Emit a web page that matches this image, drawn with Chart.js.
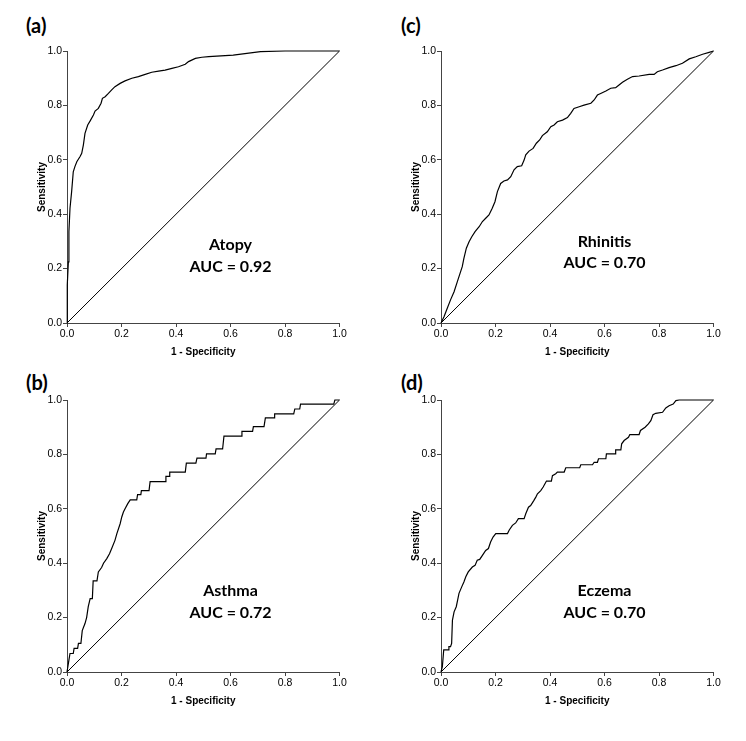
<!DOCTYPE html>
<html>
<head>
<meta charset="utf-8">
<script src="https://cdn.jsdelivr.net/npm/chart.js@4.4.1/dist/chart.umd.min.js"></script>
<style>
    body { margin: 0; background: #fff; }
    #wrap { position: relative; width: 746px; height: 741px; }
    canvas { position: absolute; }
    .panel-tag {
        position: absolute;
        font-family: Lato, 'Open Sans', sans-serif;
        font-weight: bold;
        font-size: 20px;
        color: #000;
        line-height: 20px;
    }
</style>
</head>
<body>
<div id="wrap">
    <div class="panel-tag" style="left:26px; top:15px;">(a)</div>
    <div class="panel-tag" style="left:401px; top:15px;">(c)</div>
    <div class="panel-tag" style="left:26px; top:372px;">(b)</div>
    <div class="panel-tag" style="left:401px; top:372px;">(d)</div>
    <canvas id="chartA" width="373" height="370" style="left:0px; top:0px;"></canvas>
    <canvas id="chartC" width="373" height="370" style="left:374px; top:0px;"></canvas>
    <canvas id="chartB" width="373" height="370" style="left:0px; top:349px;"></canvas>
    <canvas id="chartD" width="373" height="370" style="left:374px; top:349px;"></canvas>
</div>
<script>
// ROC curves (1 - specificity, sensitivity)
const tickValues = [0, 0.2, 0.4, 0.6, 0.8, 1.0];

const atopyFpr = [0, 0, 0.002, 0.005, 0.007, 0.011, 0.017, 0.023, 0.029, 0.036, 0.048, 0.054, 0.060, 0.066, 0.076, 0.085, 0.097, 0.103, 0.115, 0.125, 0.130, 0.140, 0.152, 0.164, 0.176, 0.195, 0.213, 0.238, 0.262, 0.287, 0.311, 0.336, 0.360, 0.385, 0.409, 0.434, 0.446, 0.471, 0.495, 0.520, 0.610, 0.710, 0.800, 1.0];
const atopyTpr = [0, 0.127, 0.140, 0.225, 0.336, 0.422, 0.483, 0.556, 0.575, 0.593, 0.612, 0.624, 0.654, 0.697, 0.728, 0.743, 0.765, 0.779, 0.789, 0.808, 0.826, 0.832, 0.844, 0.857, 0.869, 0.881, 0.890, 0.900, 0.906, 0.914, 0.922, 0.926, 0.930, 0.936, 0.942, 0.951, 0.961, 0.973, 0.977, 0.979, 0.985, 0.998, 1.0, 1.0];

const rhinitisFpr = [0, 0.011, 0.023, 0.035, 0.048, 0.060, 0.072, 0.078, 0.084, 0.093, 0.103, 0.113, 0.125, 0.140, 0.152, 0.164, 0.176, 0.188, 0.198, 0.207, 0.219, 0.231, 0.244, 0.256, 0.268, 0.280, 0.296, 0.305, 0.311, 0.323, 0.338, 0.350, 0.362, 0.372, 0.390, 0.403, 0.415, 0.427, 0.446, 0.464, 0.476, 0.488, 0.507, 0.525, 0.550, 0.562, 0.574, 0.586, 0.605, 0.623, 0.641, 0.651, 0.666, 0.684, 0.703, 0.727, 0.764, 0.782, 0.794, 0.813, 0.837, 0.862, 0.886, 0.911, 0.935, 0.960, 0.984, 1.0];
const rhinitisTpr = [0, 0.023, 0.054, 0.085, 0.115, 0.152, 0.189, 0.207, 0.238, 0.275, 0.299, 0.317, 0.336, 0.354, 0.373, 0.385, 0.397, 0.422, 0.446, 0.483, 0.513, 0.522, 0.526, 0.538, 0.563, 0.575, 0.578, 0.599, 0.618, 0.632, 0.642, 0.661, 0.673, 0.689, 0.703, 0.722, 0.728, 0.740, 0.746, 0.755, 0.771, 0.789, 0.795, 0.801, 0.808, 0.820, 0.838, 0.844, 0.853, 0.863, 0.865, 0.873, 0.885, 0.896, 0.906, 0.908, 0.914, 0.914, 0.924, 0.930, 0.939, 0.946, 0.955, 0.971, 0.979, 0.988, 0.995, 1.0];

const asthmaFpr = [0, 0.007, 0.011, 0.023, 0.026, 0.039, 0.042, 0.051, 0.056, 0.066, 0.072, 0.078, 0.085, 0.093, 0.096, 0.110, 0.115, 0.127, 0.134, 0.146, 0.156, 0.164, 0.176, 0.183, 0.195, 0.201, 0.207, 0.213, 0.223, 0.232, 0.256, 0.259, 0.271, 0.273, 0.301, 0.305, 0.360, 0.363, 0.375, 0.377, 0.434, 0.438, 0.473, 0.477, 0.510, 0.512, 0.544, 0.547, 0.571, 0.576, 0.640, 0.642, 0.681, 0.684, 0.723, 0.728, 0.760, 0.762, 0.832, 0.836, 0.854, 0.857, 0.979, 0.983, 1.0];
const asthmaTpr = [0, 0.044, 0.068, 0.068, 0.087, 0.087, 0.105, 0.105, 0.152, 0.178, 0.200, 0.240, 0.270, 0.270, 0.335, 0.335, 0.368, 0.384, 0.400, 0.417, 0.435, 0.454, 0.484, 0.509, 0.545, 0.570, 0.588, 0.600, 0.619, 0.633, 0.633, 0.652, 0.652, 0.667, 0.667, 0.700, 0.700, 0.719, 0.719, 0.735, 0.735, 0.768, 0.768, 0.786, 0.786, 0.802, 0.802, 0.820, 0.820, 0.867, 0.867, 0.885, 0.885, 0.902, 0.902, 0.934, 0.934, 0.949, 0.949, 0.967, 0.967, 0.985, 0.985, 1.0, 1.0];

const eczemaFpr = [0, 0.005, 0.010, 0.027, 0.029, 0.035, 0.039, 0.042, 0.048, 0.056, 0.061, 0.066, 0.076, 0.084, 0.091, 0.100, 0.115, 0.125, 0.133, 0.142, 0.152, 0.164, 0.174, 0.182, 0.191, 0.201, 0.244, 0.250, 0.262, 0.274, 0.284, 0.305, 0.311, 0.321, 0.329, 0.341, 0.348, 0.354, 0.366, 0.375, 0.387, 0.405, 0.409, 0.421, 0.427, 0.452, 0.458, 0.509, 0.513, 0.556, 0.562, 0.574, 0.578, 0.605, 0.607, 0.639, 0.641, 0.660, 0.663, 0.672, 0.688, 0.693, 0.727, 0.732, 0.749, 0.761, 0.770, 0.778, 0.788, 0.813, 0.825, 0.837, 0.852, 0.862, 0.874, 1.0];
const eczemaTpr = [0, 0.020, 0.081, 0.081, 0.093, 0.093, 0.105, 0.191, 0.221, 0.240, 0.264, 0.289, 0.313, 0.331, 0.350, 0.368, 0.386, 0.392, 0.411, 0.414, 0.429, 0.447, 0.454, 0.478, 0.496, 0.509, 0.509, 0.521, 0.539, 0.548, 0.564, 0.564, 0.582, 0.606, 0.612, 0.631, 0.643, 0.655, 0.667, 0.680, 0.702, 0.702, 0.722, 0.729, 0.735, 0.735, 0.751, 0.751, 0.762, 0.762, 0.771, 0.771, 0.784, 0.784, 0.802, 0.802, 0.817, 0.817, 0.839, 0.851, 0.863, 0.873, 0.873, 0.888, 0.900, 0.912, 0.924, 0.946, 0.951, 0.955, 0.971, 0.979, 0.985, 0.998, 1.0, 1.0];

// reference line
const diagX = [0, 1];
const diagY = [0, 1];

function toPoints(xs, ys) {
    return xs.map((x, i) => ({ x: x, y: ys[i] }));
}

// draws the disease name and AUC inside the plot
const aucLabels = {
    id: 'aucLabels',
    afterDatasetsDraw(chart, args, opts) {
        const ctx = chart.ctx;
        const xs = chart.scales.x;
        const ys = chart.scales.y;
        ctx.save();
        ctx.fillStyle = '#000';
        ctx.font = 'bold 16px Lato, "Open Sans", sans-serif';
        ctx.textAlign = 'center';
        ctx.textBaseline = 'middle';
        ctx.fillText(opts.name, xs.getPixelForValue(opts.x), ys.getPixelForValue(opts.y1));
        ctx.fillText(opts.auc, xs.getPixelForValue(opts.x), ys.getPixelForValue(opts.y2));
        ctx.restore();
    }
};

function makePanel(canvasId, fpr, tpr, name, auc, y1, y2) {
    const axisColor = '#444';
    const tickFont = { family: 'Liberation Sans, Arial, sans-serif', size: 10.5 };
    const titleFont = { family: 'Liberation Sans, Arial, sans-serif', size: 10, weight: 'bold' };

    new Chart(document.getElementById(canvasId), {
        type: 'scatter',
        data: {
            datasets: [{
                data: toPoints(fpr, tpr),
                showLine: true,
                borderColor: '#000',
                borderWidth: 1.2,
                pointRadius: 0,
                tension: 0,
                clip: 3
            }, {
                data: toPoints(diagX, diagY),
                showLine: true,
                borderColor: '#000',
                borderWidth: 1,
                pointRadius: 0,
                clip: 3
            }]
        },
        options: {
            responsive: false,
            animation: false,
            events: [],
            layout: {
                padding: { left: 32, top: 51, right: 33.5, bottom: 8 }
            },
            plugins: {
                legend: { display: false },
                tooltip: { enabled: false },
                aucLabels: { name: name, auc: auc, x: 0.6, y1: y1, y2: y2 }
            },
            scales: {
                x: {
                    type: 'linear',
                    min: 0,
                    max: 1,
                    afterFit: function(scale) { scale.height = 39; },
                    afterBuildTicks: function(scale) {
                        scale.ticks = tickValues.map(v => ({ value: v }));
                    },
                    ticks: {
                        color: '#000',
                        font: tickFont,
                        padding: 1,
                        maxRotation: 0,
                        callback: function(value) { return value.toFixed(1); }
                    },
                    grid: { drawOnChartArea: false, tickLength: 4, color: axisColor },
                    border: { color: axisColor, width: 1 },
                    title: { display: true, text: '1 - Specificity', color: '#000', font: titleFont, padding: 4 }
                },
                y: {
                    type: 'linear',
                    min: 0,
                    max: 1,
                    afterFit: function(scale) { scale.width = 35; },
                    afterBuildTicks: function(scale) {
                        scale.ticks = tickValues.map(v => ({ value: v }));
                    },
                    ticks: {
                        color: '#000',
                        font: tickFont,
                        padding: 1,
                        callback: function(value) { return value.toFixed(1); }
                    },
                    grid: { drawOnChartArea: false, tickLength: 4, color: axisColor },
                    border: { color: axisColor, width: 1 },
                    title: { display: true, text: 'Sensitivity', color: '#000', font: titleFont, padding: 4 }
                }
            }
        },
        plugins: [aucLabels]
    });
}

document.addEventListener('DOMContentLoaded', function() {
    makePanel('chartA', atopyFpr, atopyTpr, 'Atopy', 'AUC = 0.92', 0.287, 0.206);
    makePanel('chartC', rhinitisFpr, rhinitisTpr, 'Rhinitis', 'AUC = 0.70', 0.30, 0.22);
    makePanel('chartB', asthmaFpr, asthmaTpr, 'Asthma', 'AUC = 0.72', 0.30, 0.218);
    makePanel('chartD', eczemaFpr, eczemaTpr, 'Eczema', 'AUC = 0.70', 0.30, 0.218);
});
</script>
</body>
</html>
